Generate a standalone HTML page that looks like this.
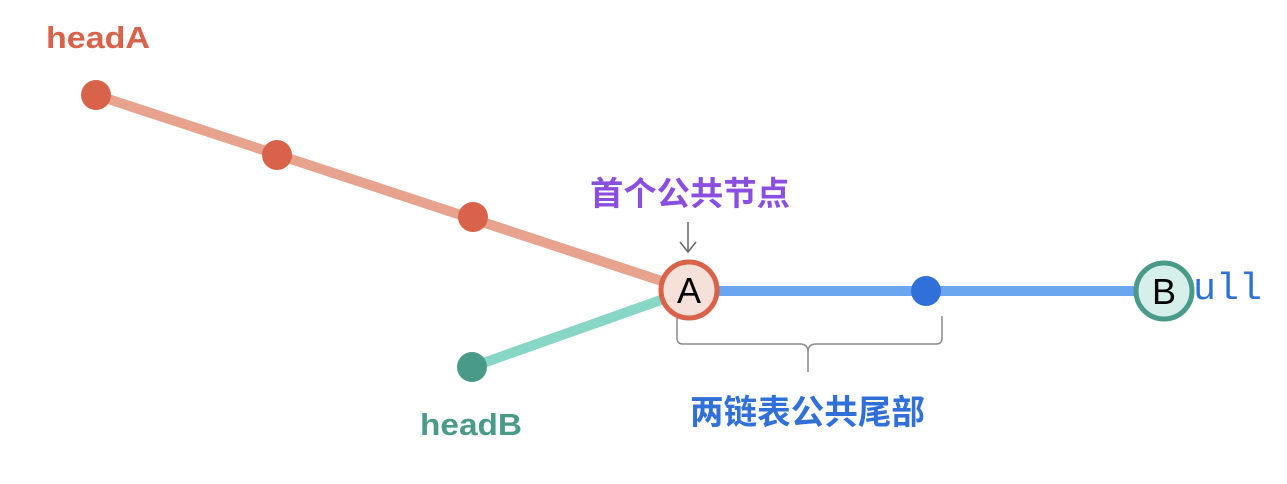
<!DOCTYPE html>
<html><head><meta charset="utf-8"><style>
html,body{margin:0;padding:0;background:#fff;}
svg{display:block}
</style></head><body>
<svg width="1287" height="484" viewBox="0 0 1287 484" xmlns="http://www.w3.org/2000/svg">
<line x1="96" y1="95" x2="689" y2="290" stroke="#e8a38f" stroke-width="10"/>
<line x1="472" y1="367" x2="689" y2="290" stroke="#88d6c6" stroke-width="10"/>
<line x1="689" y1="291" x2="1164" y2="291" stroke="#6aa6f0" stroke-width="10"/>
<text x="1170" y="299" font-family="Liberation Mono, monospace" font-size="38" fill="#3070d8" textLength="92" lengthAdjust="spacingAndGlyphs">null</text>
<circle cx="96" cy="95" r="15" fill="#d9634a"/>
<circle cx="277" cy="155" r="15" fill="#d9634a"/>
<circle cx="473" cy="217" r="15" fill="#d9634a"/>
<circle cx="472" cy="367" r="15" fill="#4a9a8a"/>
<circle cx="926" cy="291" r="15" fill="#3070d8"/>
<circle cx="689" cy="290" r="28" fill="#f5e0da" stroke="#d9634a" stroke-width="5"/>
<text x="689" y="303" text-anchor="middle" font-family="Liberation Sans, sans-serif" font-size="36" fill="#000">A</text>
<circle cx="1164" cy="291" r="28" fill="#d6efea" stroke="#4a9a8a" stroke-width="5"/>
<text x="1164" y="304" text-anchor="middle" font-family="Liberation Sans, sans-serif" font-size="36" fill="#000">B</text>
<path d="M688 222 V252 M680 242 L688 252 L696 242" stroke="#666" stroke-width="1.5" fill="none"/>
<path d="M677 318 V338 Q677 344 683 344 H800 Q808 344 808 352 V372 M808 352 Q808 344 816 344 H936 Q942 344 942 338 V316" stroke="#888" stroke-width="1.5" fill="none"/>
<text x="46" y="48" font-family="Liberation Sans, sans-serif" font-weight="bold" font-size="31" fill="#d9634a" textLength="104" lengthAdjust="spacingAndGlyphs">headA</text>
<text x="420" y="435" font-family="Liberation Sans, sans-serif" font-weight="bold" font-size="31" fill="#4a9a8a" textLength="102" lengthAdjust="spacingAndGlyphs">headB</text>
<text x="590" y="205" font-family="Liberation Sans, 'Noto Sans CJK SC', sans-serif" font-weight="bold" font-size="33" fill="#8a4fe0" textLength="200" lengthAdjust="spacingAndGlyphs">首个公共节点</text>
<text x="690" y="424" font-family="Liberation Sans, 'Noto Sans CJK SC', sans-serif" font-weight="bold" font-size="34" fill="#3070d8" textLength="235" lengthAdjust="spacingAndGlyphs">两链表公共尾部</text>
</svg>
</body></html>
